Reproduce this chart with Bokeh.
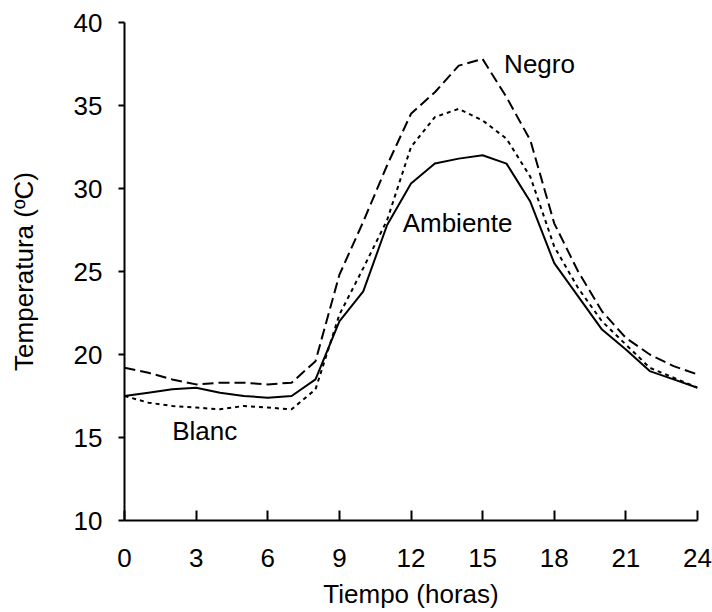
from bokeh.plotting import figure
from bokeh.models import Label, Range1d, FixedTicker
from bokeh.embed import file_html
from bokeh.resources import INLINE

hours = list(range(0, 25))
ambiente = [17.5, 17.7, 17.9, 18.0, 17.7, 17.5, 17.4, 17.5, 18.5, 22.0, 23.8, 27.8, 30.3,
            31.5, 31.8, 32.0, 31.5, 29.2, 25.5, 23.5, 21.5, 20.3, 19.0, 18.5, 18.0]
negro = [19.2, 18.9, 18.5, 18.2, 18.3, 18.3, 18.2, 18.3, 19.6, 24.8, 28.0, 31.4, 34.5,
         35.8, 37.4, 37.8, 35.5, 32.9, 27.9, 25.0, 22.6, 21.0, 20.0, 19.3, 18.8]
blanc = [17.5, 17.1, 16.9, 16.8, 16.7, 16.9, 16.8, 16.7, 17.9, 22.4, 25.2, 28.1, 32.5,
         34.3, 34.8, 34.1, 33.0, 30.7, 26.5, 24.0, 22.0, 20.6, 19.2, 18.6, 18.0]
x_ticks = [0, 3, 6, 9, 12, 15, 18, 21, 24]
y_ticks = [10, 15, 20, 25, 30, 35, 40]

FONT = "Liberation Sans"
FS = "26px"

p = figure(width=712, height=612, output_backend="svg", toolbar_location=None,
           x_range=Range1d(0, 24), y_range=Range1d(10, 40),
           min_border_left=124, min_border_right=15, min_border_top=22, min_border_bottom=92)
p.outline_line_color = None
p.grid.visible = False
p.background_fill_color = "white"
p.border_fill_color = "white"

p.line(hours, ambiente, line_color="black", line_width=2)
p.line(hours, negro, line_color="black", line_width=2, line_dash="11 5")
p.line(hours, blanc, line_color="black", line_width=2, line_dash="4 4")

for ax in (p.xaxis[0], p.yaxis[0]):
    ax.axis_line_color = "black"
    ax.axis_line_width = 2
    ax.major_tick_line_color = "black"
    ax.major_tick_line_width = 2
    ax.minor_tick_line_color = None
    ax.major_label_text_font = FONT
    ax.major_label_text_font_size = FS
    ax.major_label_text_color = "black"
    ax.axis_label_text_font = FONT
    ax.axis_label_text_font_size = FS
    ax.axis_label_text_font_style = "normal"
    ax.axis_label_text_color = "black"

p.xaxis.ticker = FixedTicker(ticks=x_ticks)
p.yaxis.ticker = FixedTicker(ticks=y_ticks)
p.xaxis.major_tick_in = 10
p.xaxis.major_tick_out = 0
p.yaxis.major_tick_in = 0
p.yaxis.major_tick_out = 6
p.xaxis.major_label_standoff = 28
p.yaxis.major_label_standoff = 16
p.xaxis.axis_label = "Tiempo (horas)"
p.yaxis.axis_label = "Temperatura (ºC)"
p.xaxis.axis_label_standoff = 9
p.yaxis.axis_label_standoff = 32

for txt, x, y in [("Negro", 15.9, 37.5), ("Ambiente", 11.65, 27.9), ("Blanc", 2.0, 15.4)]:
    p.add_layout(Label(x=x, y=y, text=txt, text_font=FONT, text_font_size=FS,
                       text_color="black", text_baseline="middle", text_align="left"))

open("out.html", "w").write(file_html(p, INLINE))
